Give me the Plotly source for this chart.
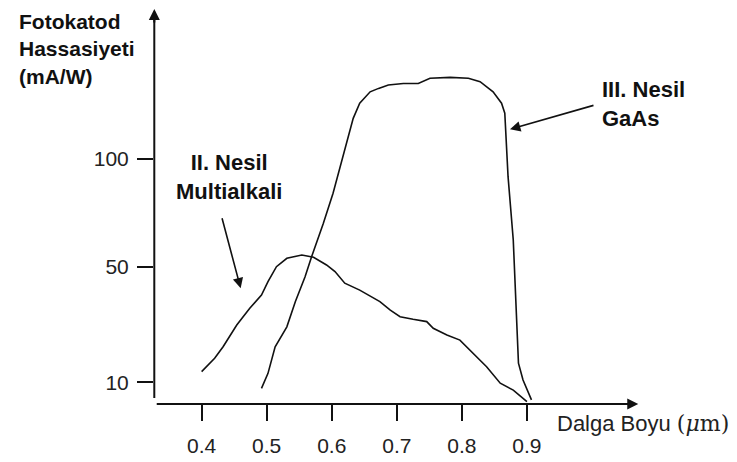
import numpy as np
import plotly.graph_objects as go

# wavelength (um) vs photocathode sensitivity (mA/W)
gen2_x = [0.40, 0.42, 0.433, 0.454, 0.474, 0.492, 0.502, 0.515, 0.531, 0.554,
          0.572, 0.592, 0.605, 0.620, 0.643, 0.674, 0.690, 0.705, 0.725, 0.746,
          0.756, 0.777, 0.797, 0.818, 0.838, 0.859, 0.879, 0.900]
gen2_y = [13.7, 18.3, 22.3, 29.8, 35.6, 40.2, 44.8, 50.0, 53.9, 55.4,
          54.4, 50.8, 48.3, 44.3, 41.9, 37.9, 35.0, 32.7, 31.8, 31.0,
          28.7, 26.4, 24.6, 20.0, 15.4, 9.7, 7.3, 3.3]

gen3_x = [0.492, 0.502, 0.513, 0.531, 0.544, 0.559, 0.569, 0.587, 0.602, 0.613,
          0.623, 0.633, 0.643, 0.659, 0.672, 0.687, 0.710, 0.733, 0.751, 0.782,
          0.810, 0.828, 0.848, 0.861, 0.866, 0.868, 0.871, 0.879, 0.882, 0.887,
          0.894, 0.907]
gen3_y = [7.9, 13.1, 22.3, 29.2, 37.9, 46.5, 54.6, 70.1, 84.1, 96.4,
          108.8, 118.9, 125.9, 131.2, 132.8, 134.4, 135.1, 135.1, 137.5, 137.9,
          137.5, 135.9, 131.2, 125.9, 121.3, 107.4, 91.8, 62.4, 40.8, 16.6,
          10.8, 3.9]

x_ticks = [0.4, 0.5, 0.6, 0.7, 0.8, 0.9]
y_ticks = [10, 50, 100]

# the sketch's vertical scale is not linear: 10-50 is stretched vs 50-100
SENS_KNOTS = [0, 10, 50, 100, 200]
AXIS_KNOTS = [-1.65, 10, 56.6, 100, 186.8]


def to_axis(v):
    return np.interp(v, SENS_KNOTS, AXIS_KNOTS)


FONT = "Liberation Sans, Arial, sans-serif"
INK = "#111111"
GREY = "#222222"
BOLD = dict(family=FONT, size=22, color=INK, weight="bold")

fig = go.Figure()
for xs, ys in [(gen2_x, gen2_y), (gen3_x, gen3_y)]:
    fig.add_trace(go.Scatter(x=xs, y=to_axis(ys), mode="lines",
                             line=dict(color=INK, width=1.6), hoverinfo="skip"))

# hand-drawn axes: lines that do not meet, each ending in an arrowhead
fig.add_shape(type="line", xref="x", yref="paper", x0=0.331, x1=1.062, y0=0, y1=0,
              line=dict(color=INK, width=2))
fig.add_shape(type="line", xref="paper", yref="y", x0=0.0006, x1=0.0006, y0=3.67, y1=158,
              line=dict(color=INK, width=2))
fig.add_annotation(x=1.0711, y=0, xref="x", yref="paper", ax=-16, ay=0.01, text="",
                   showarrow=True, arrowhead=2, arrowsize=1.1, arrowwidth=2, arrowcolor=INK)
fig.add_annotation(x=0.0006, y=1, xref="paper", yref="paper", ax=0.01, ay=16, text="",
                   showarrow=True, arrowhead=2, arrowsize=1.1, arrowwidth=2, arrowcolor=INK)

# pointers to the curves
for (x, y, ax, ay) in [(0.460, 47.9, 0.4308, 76.7), (0.874, 112.0, 1.0046, 121.8)]:
    fig.add_annotation(x=x, y=y, ax=ax, ay=ay, xref="x", yref="y", axref="x", ayref="y",
                       text="", showarrow=True, arrowhead=2, arrowsize=1.3,
                       arrowwidth=1.6, arrowcolor=INK, standoff=0)

fig.add_annotation(x=0.442, y=92.7, xref="x", yref="y", text="II. Nesil<br>Multialkali",
                   showarrow=False, font=BOLD, align="center")
fig.add_annotation(x=1.0123, y=122.2, xref="x", yref="y", text="III. Nesil<br>GaAs",
                   showarrow=False, font=BOLD, align="left", xanchor="left")
fig.add_annotation(x=-0.2825, y=1.0, xref="paper", yref="paper",
                   text="Fotokatod<br>Hassasiyeti<br>(mA/W)", showarrow=False,
                   font=dict(BOLD, size=21), align="left", xanchor="left", yanchor="top")
fig.add_annotation(x=0.825, y=-0.0487, xref="paper", yref="paper",
                   text="Dalga Boyu <span style='font-family:DejaVu Serif'>(<i>μ</i>m)</span>",
                   showarrow=False, font=dict(family=FONT, size=22, color=GREY),
                   xanchor="left", yanchor="middle")

# the page body adds an 8px margin, so the figure is sized to the visible window
fig.update_layout(
    width=729, height=454, template="none",
    paper_bgcolor="white", plot_bgcolor="white", showlegend=False,
    margin=dict(l=146, r=97, t=0, b=58),
    xaxis=dict(range=[0.3268, 1.0738], tickvals=x_ticks, ticktext=[str(t) for t in x_ticks],
               ticks="outside", ticklen=16, tickwidth=2, tickcolor=INK,
               showline=False, showgrid=False, zeroline=False, automargin=False,
               ticklabelstandoff=7, tickfont=dict(family=FONT, size=21, color=GREY)),
    yaxis=dict(range=[1.253, 160.87], tickvals=to_axis(y_ticks), ticktext=[str(t) for t in y_ticks],
               ticks="outside", ticklen=16, tickwidth=2, tickcolor=INK,
               showline=False, showgrid=False, zeroline=False, automargin=False,
               ticklabelstandoff=4, tickfont=dict(family=FONT, size=21, color=GREY)),
)

fig.write_html("out.html")
